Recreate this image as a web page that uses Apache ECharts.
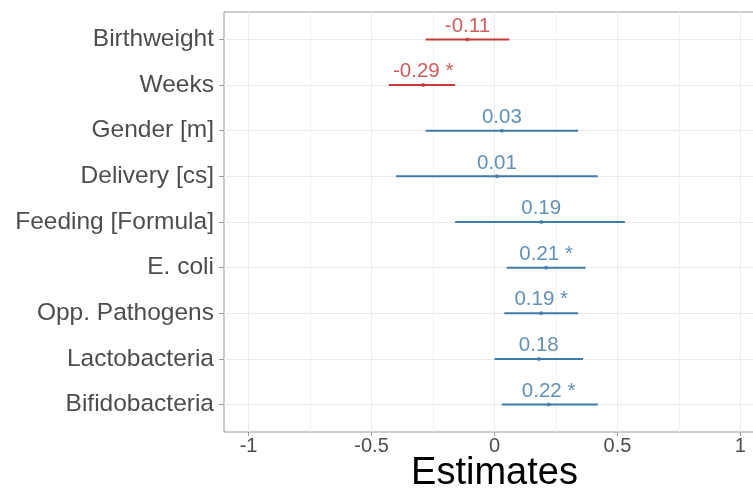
<!DOCTYPE html>
<html>
<head>
<meta charset="utf-8">
<script src="https://cdn.jsdelivr.net/npm/echarts@6/dist/echarts.min.js"></script>
<style>html,body{margin:0;padding:0;background:#fff;}#c{width:753px;height:491px;}</style>
</head>
<body>
<div id="c"></div>
<script>
const categories = ["Birthweight","Weeks","Gender [m]","Delivery [cs]","Feeding [Formula]","E. coli","Opp. Pathogens","Lactobacteria","Bifidobacteria"];
const estimates = [-0.11,-0.29,0.03,0.01,0.19,0.21,0.19,0.18,0.22];
const lower = [-0.28,-0.43,-0.28,-0.40,-0.16,0.05,0.04,0.00,0.03];
const upper = [0.06,-0.16,0.34,0.42,0.53,0.37,0.34,0.36,0.42];
const significant = [false,true,false,false,false,true,true,false,true];
const xTicks = [-1,-0.5,0,0.5,1];
const xMinor = [-0.75,-0.25,0.25,0.75];
const yPositions = [1,2,3,4,5,6,7,8,9];

const RED = '#C63A3A', BLUE = '#3F7BA8';
const RED_TXT = '#C23535', BLUE_TXT = '#3A76A4';
const colorOf = v => v < 0 ? RED : BLUE;
const txtColorOf = v => v < 0 ? RED_TXT : BLUE_TXT;
const fontFam = '"Liberation Sans", Arial, sans-serif';

const barData = categories.map((c,i)=>[lower[i], upper[i], i+1, estimates[i]]);
const pointData = categories.map((c,i)=>({
  value:[estimates[i], i+1],
  itemStyle:{color:colorOf(estimates[i])},
  label:{color:txtColorOf(estimates[i])}
}));

const chart = echarts.init(document.getElementById('c'), null, {renderer:'canvas'});
chart.setOption({
  animation:false,
  backgroundColor:'#fff',
  grid:{left:224, top:12, right:-12, bottom:59, outerBoundsMode:'none', containLabel:false,
    show:true, borderColor:'#9a9a9a', borderWidth:1, backgroundColor:'#fff'},
  xAxis:{
    type:'value', min:-1.1, max:1.1,
    axisLine:{show:false, onZero:false},
    axisTick:{show:true, customValues:xTicks, length:4, lineStyle:{color:'#9a9a9a'}},
    axisLabel:{customValues:xTicks, fontSize:20, color:'#4d4d4d', fontFamily:fontFam, margin:4},
    splitLine:{show:true, lineStyle:{color:'#EBEBEB', width:1}},
    name:'Estimates', nameLocation:'middle', nameGap:23, nameMoveOverlap:false,
    nameTextStyle:{fontSize:38, color:'#000', fontFamily:fontFam}
  },
  yAxis:{
    type:'value', min:0.4, max:9.6, inverse:true,
    axisLine:{show:false, onZero:false},
    axisTick:{show:true, customValues:yPositions, length:5, lineStyle:{color:'#9a9a9a'}},
    axisLabel:{customValues:yPositions, fontSize:24.5, color:'#4d4d4d', fontFamily:fontFam, margin:10,
      formatter:v=>categories[Math.round(v)-1]},
    splitLine:{show:true, lineStyle:{color:'#EBEBEB', width:1}}
  },
  series:[
    {
      type:'custom',
      data:barData,
      z:3,
      renderItem:(params, api)=>{
        const lo = api.coord([api.value(0), api.value(2)]);
        const hi = api.coord([api.value(1), api.value(2)]);
        const col = colorOf(api.value(3));
        return {type:'line', shape:{x1:lo[0], y1:lo[1], x2:hi[0], y2:hi[1]}, style:{stroke:col, lineWidth:2}};
      },
      markLine:{
        silent:true, symbol:'none', z:1,
        label:{show:false},
        lineStyle:{color:'#F2F2F2', width:1, type:'solid'},
        data: xMinor.map(v=>({xAxis:v}))
      }
    },
    {
      type:'scatter',
      data:pointData,
      symbol:'circle', symbolSize:4, z:4,
      label:{show:true, position:'top', distance:1, fontSize:20.5, fontFamily:fontFam,
        formatter:p=>{const i=p.dataIndex; return estimates[i].toFixed(2)+(significant[i]?' *':'');}}
    }
  ]
});
</script>
</body>
</html>
